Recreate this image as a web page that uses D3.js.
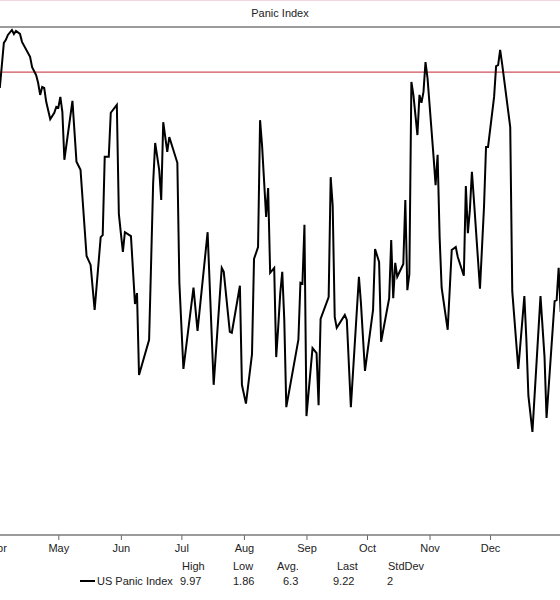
<!DOCTYPE html>
<html>
<head>
<meta charset="utf-8">
<script src="https://cdn.jsdelivr.net/npm/d3@7"></script>
<style>
  html, body { margin: 0; padding: 0; background: #fff; }
  svg { display: block; }
  text { font-family: "Liberation Sans", Arial, sans-serif; fill: #222; }
</style>
</head>
<body>
<svg id="chart" width="560" height="600"></svg>
<script>
// ---- data ----
const title = "Panic Index";
const seriesName = "US Panic Index";
const monthLabels = ["Apr","May","Jun","Jul","Aug","Sep","Oct","Nov","Dec"];
const monthStarts = ["2011-04-01","2011-05-01","2011-06-01","2011-07-01","2011-08-01","2011-09-01","2011-10-01","2011-11-01","2011-12-01"];
const threshold = 9.12;
const dates = [
 "2011-04-02","2011-04-04","2011-04-05","2011-04-06","2011-04-08","2011-04-09","2011-04-10","2011-04-12","2011-04-13","2011-04-17",
 "2011-04-18","2011-04-20","2011-04-21","2011-04-22","2011-04-23","2011-04-24","2011-04-25","2011-04-27","2011-04-29","2011-04-30",
 "2011-05-01","2011-05-02","2011-05-03","2011-05-04","2011-05-08","2011-05-10","2011-05-12","2011-05-15","2011-05-17","2011-05-19",
 "2011-05-22","2011-05-23","2011-05-24","2011-05-26","2011-05-27","2011-05-30","2011-05-31","2011-06-01","2011-06-02","2011-06-03",
 "2011-06-06","2011-06-08","2011-06-09","2011-06-10","2011-06-15","2011-06-16","2011-06-17","2011-06-18","2011-06-20","2011-06-21",
 "2011-06-22","2011-06-24","2011-06-25","2011-06-29","2011-06-30","2011-07-02","2011-07-07","2011-07-09","2011-07-14","2011-07-17",
 "2011-07-21","2011-07-22","2011-07-25","2011-07-26","2011-07-30","2011-07-31","2011-08-02","2011-08-05","2011-08-06","2011-08-08",
 "2011-08-09","2011-08-10","2011-08-12","2011-08-13","2011-08-14","2011-08-16","2011-08-17","2011-08-18","2011-08-19","2011-08-20",
 "2011-08-21","2011-08-22","2011-08-28","2011-08-29","2011-08-30","2011-08-31","2011-09-01","2011-09-04","2011-09-06","2011-09-07",
 "2011-09-08","2011-09-12","2011-09-13","2011-09-14","2011-09-15","2011-09-16","2011-09-20","2011-09-21","2011-09-23","2011-09-27",
 "2011-09-28","2011-09-30","2011-10-04","2011-10-05","2011-10-07","2011-10-08","2011-10-12","2011-10-13","2011-10-14","2011-10-15",
 "2011-10-16","2011-10-19","2011-10-20","2011-10-21","2011-10-22","2011-10-23","2011-10-24","2011-10-26","2011-10-27","2011-10-28",
 "2011-10-29","2011-10-30","2011-10-31","2011-11-03","2011-11-04","2011-11-05","2011-11-06","2011-11-07","2011-11-10","2011-11-12",
 "2011-11-14","2011-11-15","2011-11-18","2011-11-19","2011-11-20","2011-11-21","2011-11-22","2011-11-23","2011-11-26","2011-11-28",
 "2011-11-29","2011-11-30","2011-12-03","2011-12-04","2011-12-05","2011-12-06","2011-12-07","2011-12-11","2011-12-12","2011-12-15",
 "2011-12-18","2011-12-19","2011-12-20","2011-12-22","2011-12-26","2011-12-28","2011-12-29","2012-01-02","2012-01-03","2012-01-04",
 "2012-01-05"
];
const values = [
 8.80,9.71,9.77,9.87,9.97,9.89,9.95,9.89,9.73,9.43,
 9.22,9.06,8.90,8.66,8.82,8.80,8.52,8.17,8.30,8.42,
 8.40,8.62,8.32,7.35,8.54,7.31,7.15,5.41,5.23,4.32,
 5.79,5.83,7.41,7.41,8.30,8.46,6.26,5.87,5.49,5.89,
 5.81,4.44,4.66,3.01,3.72,5.29,6.88,7.69,7.15,6.54,
 8.11,7.51,7.81,7.29,4.87,3.13,4.77,3.90,5.89,2.81,
 5.17,5.09,3.88,3.86,4.81,2.81,2.43,3.43,5.35,5.59,
 8.15,7.63,6.20,6.78,5.07,5.17,3.37,3.98,4.66,5.09,
 4.12,2.36,3.72,4.87,4.85,6.04,2.18,3.55,3.45,2.40,
 4.14,4.58,7.00,6.42,4.18,3.96,4.22,4.12,2.36,4.99,
 4.46,3.09,4.32,5.55,5.29,3.68,4.56,5.73,4.56,5.27,
 4.99,5.25,6.54,4.72,5.05,8.92,8.66,7.85,8.66,8.50,
 8.72,9.32,9.00,7.41,6.84,7.45,5.79,4.77,3.92,5.53,
 5.59,5.39,5.01,6.82,5.87,6.34,7.11,6.54,4.75,6.40,
 7.61,7.61,8.62,9.24,9.26,9.57,9.28,8.01,4.70,3.13,
 4.60,3.72,2.59,1.86,4.60,3.37,2.14,4.50,4.52,5.17,
 4.28
];
const statHeaders = ["High","Low","Avg.","Last","StdDev"];
const statValues = ["9.97","1.86","6.3","9.22","2"];

// ---- chart ----
const W = 560, H = 600;
const plotTop = 27, plotBottom = 535;
const svg = d3.select("#chart");
const parse = d3.timeParse("%Y-%m-%d");
const data = dates.map((d, i) => ({ date: parse(d), value: values[i] }));

const x = d3.scaleTime()
  .domain([parse("2011-04-01"), parse("2012-01-01")])
  .range([-2.2, 552.6]);
const y = d3.scaleLinear().domain([-0.22, 10.03]).range([plotBottom, plotTop]);

// faint outer frame line at the very top
svg.append("line").attr("x1", 0).attr("x2", W).attr("y1", 0.5).attr("y2", 0.5)
  .attr("stroke", "#f2d6de").attr("stroke-width", 1);

// title
svg.append("text").attr("x", 280).attr("y", 17).attr("text-anchor", "middle")
  .style("font-size", "11px").text(title);

// top border of plot
svg.append("line").attr("x1", 0).attr("x2", W).attr("y1", plotTop).attr("y2", plotTop)
  .attr("stroke", "#7a7a7a").attr("stroke-width", 1.3);

// clip
svg.append("defs").append("clipPath").attr("id", "clip")
  .append("rect").attr("x", 0).attr("y", plotTop).attr("width", W).attr("height", plotBottom - plotTop);

// threshold line
svg.append("line").attr("x1", 0).attr("x2", W)
  .attr("y1", y(threshold)).attr("y2", y(threshold))
  .attr("stroke", "#d0505a").attr("stroke-width", 1.2);

// series line
const line = d3.line().x(d => x(d.date)).y(d => y(d.value));
svg.append("path").datum(data)
  .attr("clip-path", "url(#clip)")
  .attr("fill", "none").attr("stroke", "#000").attr("stroke-width", 2)
  .attr("stroke-linejoin", "miter").attr("d", line);

// x axis
const tickDates = monthStarts.map(parse);
const axis = d3.axisBottom(x).tickValues(tickDates)
  .tickFormat((d, i) => monthLabels[i]).tickSizeInner(5).tickSizeOuter(0).tickPadding(4);
const gx = svg.append("g").attr("transform", `translate(0,${plotBottom})`).call(axis);
gx.select(".domain").remove();
gx.selectAll(".tick line").attr("stroke", "#666");
gx.selectAll(".tick text").style("font-size", "11px").style("font-family", "'Liberation Sans', Arial, sans-serif").attr("fill", "#222");
svg.append("line").attr("x1", 0).attr("x2", W).attr("y1", plotBottom).attr("y2", plotBottom)
  .attr("stroke", "#7a7a7a").attr("stroke-width", 1.3);

// legend / stats
const headerX = [182, 233, 277, 337, 388];
const valueX = [180, 233, 283, 333, 387];
statHeaders.forEach((h, i) => {
  svg.append("text").attr("x", headerX[i]).attr("y", 570).style("font-size", "11px").text(h);
});
svg.append("line").attr("x1", 80).attr("x2", 95).attr("y1", 581).attr("y2", 581)
  .attr("stroke", "#000").attr("stroke-width", 2);
svg.append("text").attr("x", 97).attr("y", 585).style("font-size", "11px").text(seriesName);
statValues.forEach((v, i) => {
  svg.append("text").attr("x", valueX[i]).attr("y", 585).style("font-size", "11px").text(v);
});
</script>
</body>
</html>
